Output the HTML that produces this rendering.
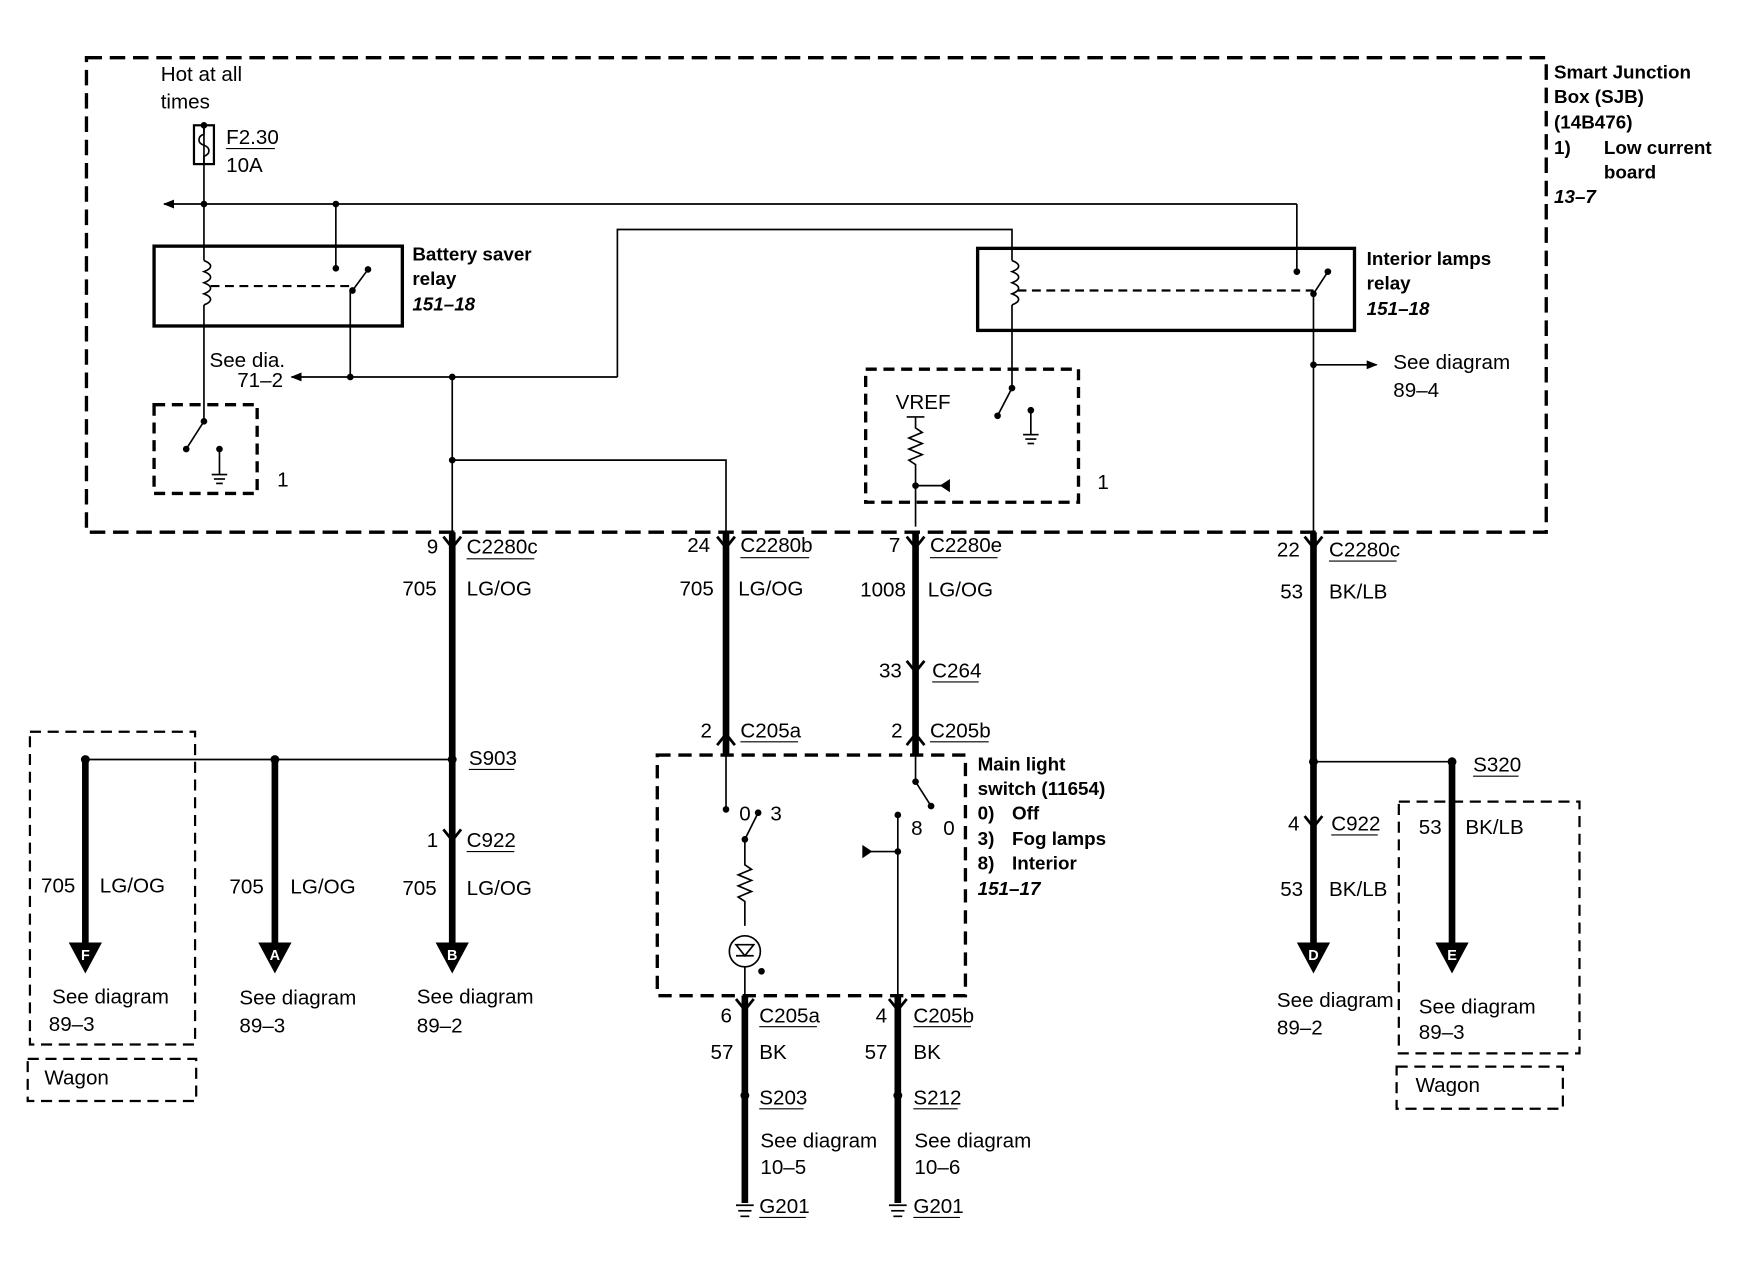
<!DOCTYPE html>
<html><head><meta charset="utf-8"><style>
html,body{margin:0;padding:0;background:#fff;}
svg{display:block;}
text{font-family:"Liberation Sans",sans-serif;font-size:18.6px;fill:#000;}
.b{font-weight:bold;font-size:17px;}
.i{font-weight:bold;font-style:italic;font-size:17px;}
</style></head><body>
<svg width="1738" height="1264" viewBox="0 0 1568 1140" preserveAspectRatio="none" xmlns="http://www.w3.org/2000/svg">
<defs>
<marker id="ar" markerWidth="10" markerHeight="10" refX="9" refY="5" orient="auto" markerUnits="userSpaceOnUse"><path d="M0,1 L10,5 L0,9 Z" fill="#000"/></marker>
</defs>
<g fill="none" stroke="#000">
<rect x="78" y="52" width="1317" height="428" stroke-width="3" stroke-dasharray="14,7"/>
<rect x="139" y="365" width="93" height="80" stroke-width="3" stroke-dasharray="10,6"/>
<rect x="781" y="333" width="192" height="120" stroke-width="3" stroke-dasharray="10,6"/>
<rect x="593" y="681" width="278" height="217" stroke-width="3" stroke-dasharray="12,7"/>
<rect x="27" y="660" width="149" height="282" stroke-width="2" stroke-dasharray="10,6"/>
<rect x="25" y="955" width="152" height="38" stroke-width="2" stroke-dasharray="10,6"/>
<rect x="1262" y="723" width="163" height="227" stroke-width="2" stroke-dasharray="10,6"/>
<rect x="1260" y="962" width="150" height="38" stroke-width="2" stroke-dasharray="10,6"/>
<rect x="139" y="222" width="224" height="72" stroke-width="3"/>
<rect x="882" y="224" width="340" height="74" stroke-width="3"/>
<line x1="190" y1="258" x2="318" y2="258" stroke-width="2" stroke-dasharray="8,5"/>
<line x1="918" y1="262" x2="1185" y2="262" stroke-width="2" stroke-dasharray="8,5"/>
<rect x="175" y="113" width="18" height="35" stroke-width="2"/>
<path d="M184,113 v8 c-6,2 -6,8 0,10 c6,2 6,8 0,10 v7" stroke-width="1.5"/>
<g stroke-width="1.5">
<line x1="184" y1="113" x2="184" y2="235"/>
<path d="M184,235 c8,3 8,7 0,10 c8,3 8,7 0,10 c8,3 8,7 0,10 c8,3 8,7 0,10"/>
<line x1="184" y1="275" x2="184" y2="380"/>
<line x1="184" y1="380" x2="168" y2="405"/>
<line x1="198" y1="405" x2="198" y2="428"/><line x1="191" y1="428" x2="205" y2="428"/><line x1="193" y1="432" x2="203" y2="432"/><line x1="195" y1="436" x2="201" y2="436"/>
<line x1="1170" y1="184" x2="148" y2="184" marker-end="url(#ar)"/>
<line x1="1170" y1="184" x2="1170" y2="245"/>
<line x1="303" y1="184" x2="303" y2="242"/>
<line x1="318" y1="262" x2="332" y2="243"/>
<line x1="316" y1="262" x2="316" y2="340"/>
<line x1="557" y1="340" x2="263" y2="340" marker-end="url(#ar)"/>
<polyline points="557,340 557,207 913,207 913,235"/>
<path d="M913,235 c8,3 8,7 0,10 c8,3 8,7 0,10 c8,3 8,7 0,10 c8,3 8,7 0,10"/>
<line x1="913" y1="275" x2="913" y2="350"/>
<line x1="913" y1="350" x2="900" y2="375"/>
<line x1="930" y1="370" x2="930" y2="392"/><line x1="923" y1="392" x2="937" y2="392"/><line x1="925" y1="396" x2="935" y2="396"/><line x1="927" y1="400" x2="933" y2="400"/>
<line x1="1185" y1="265" x2="1198" y2="245"/>
<line x1="1185" y1="265" x2="1185" y2="480"/>
<line x1="1185" y1="329" x2="1242" y2="329" marker-end="url(#ar)"/>
<line x1="408" y1="340" x2="408" y2="480"/>
<polyline points="408,415 655,415 655,480"/>
<line x1="818" y1="376" x2="834" y2="376"/>
<path d="M826,376 v10 l6,4 l-12,5 l12,5 l-12,5 l12,5 l-12,5 l6,4 v5 v51"/>
<line x1="826" y1="438" x2="857" y2="438"/>
<line x1="77" y1="685" x2="408" y2="685"/>
<line x1="1185" y1="687" x2="1310" y2="687"/>
<line x1="655" y1="681" x2="655" y2="730"/>
<line x1="672" y1="757" x2="684" y2="733"/>
<path d="M672,757 v23 l6,4 l-12,5 l12,5 l-12,5 l12,5 l-12,5 l6,4 v22"/>
<circle cx="672" cy="858" r="14"/>
<path d="M664,852 h16 l-8,10 z M664,862 h16" />
<line x1="672" y1="872" x2="672" y2="898"/>
<line x1="826" y1="681" x2="826" y2="705"/>
<line x1="826" y1="705" x2="840" y2="727"/>
<line x1="810" y1="735" x2="810" y2="898"/>
<line x1="778" y1="768" x2="810" y2="768"/>
</g>
<g stroke-width="6">
<line x1="408" y1="480" x2="408" y2="852"/>
<line x1="655" y1="480" x2="655" y2="680"/>
<line x1="826" y1="480" x2="826" y2="680"/>
<line x1="1185" y1="480" x2="1185" y2="852"/>
<line x1="77" y1="685" x2="77" y2="852"/>
<line x1="248" y1="685" x2="248" y2="852"/>
<line x1="1310" y1="687" x2="1310" y2="852"/>
<line x1="672" y1="898" x2="672" y2="1085"/>
<line x1="810" y1="898" x2="810" y2="1085"/>
</g>
<g stroke-width="2.5">
<path d="M400,484 l8,10 l8,-10"/><path d="M647,484 l8,10 l8,-10"/><path d="M818,484 l8,10 l8,-10"/><path d="M1177,484 l8,10 l8,-10"/>
<path d="M818,596 l8,10 l8,-10"/>
<path d="M647,672 l8,-10 l8,10"/><path d="M818,672 l8,-10 l8,10"/>
<path d="M400,748 l8,10 l8,-10"/><path d="M1177,736 l8,10 l8,-10"/>
<path d="M664,901 l8,10 l8,-10"/><path d="M802,901 l8,10 l8,-10"/>
</g>
<g stroke-width="1.5">
<line x1="664" y1="1087" x2="680" y2="1087"/><line x1="666" y1="1092" x2="678" y2="1092"/><line x1="668" y1="1097" x2="676" y2="1097"/>
<line x1="802" y1="1087" x2="818" y2="1087"/><line x1="804" y1="1092" x2="816" y2="1092"/><line x1="806" y1="1097" x2="814" y2="1097"/>
</g>
</g>
<g fill="#000">
<circle cx="184" cy="113" r="3"/><circle cx="184" cy="184" r="3"/><circle cx="303" cy="184" r="3"/><circle cx="303" cy="242" r="3"/>
<circle cx="318" cy="262" r="3"/><circle cx="332" cy="243" r="3"/><circle cx="316" cy="340" r="3"/><circle cx="408" cy="340" r="3"/>
<circle cx="408" cy="415" r="3"/><circle cx="1170" cy="245" r="3"/><circle cx="1185" cy="265" r="3"/><circle cx="1198" cy="245" r="3"/>
<circle cx="1185" cy="329" r="3"/><circle cx="184" cy="380" r="3"/><circle cx="168" cy="405" r="3"/><circle cx="198" cy="405" r="3"/>
<circle cx="913" cy="350" r="3"/><circle cx="900" cy="375" r="3"/><circle cx="930" cy="370" r="3"/><circle cx="826" cy="438" r="3"/>
<path d="M857,432 v12 l-9,-6 z"/>
<circle cx="77" cy="685" r="4"/><circle cx="248" cy="685" r="4"/><circle cx="408" cy="685" r="4"/>
<circle cx="1185" cy="687" r="4"/><circle cx="1310" cy="687" r="4"/>
<circle cx="655" cy="730" r="3"/><circle cx="684" cy="733" r="3"/><circle cx="672" cy="757" r="3"/>
<circle cx="826" cy="705" r="3"/><circle cx="840" cy="727" r="3"/><circle cx="810" cy="735" r="3"/><circle cx="810" cy="768" r="3"/>
<path d="M778,762 v12 l9,-6 z"/><circle cx="687" cy="876" r="3"/>
<circle cx="672" cy="988" r="4"/><circle cx="810" cy="988" r="4"/>
<path d="M62,850 h30 l-15,28 z"/><path d="M233,850 h30 l-15,28 z"/><path d="M393,850 h30 l-15,28 z"/>
<path d="M1170,850 h30 l-15,28 z"/><path d="M1295,850 h30 l-15,28 z"/>
</g>
<g text-anchor="middle">
<text x="77" y="866" style="fill:#fff;font-size:13px;font-weight:bold">F</text>
<text x="248" y="866" style="fill:#fff;font-size:13px;font-weight:bold">A</text>
<text x="408" y="866" style="fill:#fff;font-size:13px;font-weight:bold">B</text>
<text x="1185" y="866" style="fill:#fff;font-size:13px;font-weight:bold">D</text>
<text x="1310" y="866" style="fill:#fff;font-size:13px;font-weight:bold">E</text>
</g>
<g stroke="#000" stroke-width="1">
<line x1="204" y1="134" x2="248" y2="134"/>
<line x1="421" y1="504" x2="482" y2="504"/><line x1="668" y1="503" x2="730" y2="503"/><line x1="839" y1="503" x2="900" y2="503"/><line x1="1199" y1="506" x2="1260" y2="506"/>
<line x1="841" y1="615" x2="883" y2="615"/><line x1="668" y1="669" x2="720" y2="669"/><line x1="839" y1="669" x2="892" y2="669"/>
<line x1="423" y1="694" x2="464" y2="694"/><line x1="421" y1="768" x2="464" y2="768"/><line x1="1329" y1="700" x2="1370" y2="700"/><line x1="1201" y1="753" x2="1243" y2="753"/>
<line x1="685" y1="926" x2="737" y2="926"/><line x1="824" y1="926" x2="876" y2="926"/>
<line x1="685" y1="1000" x2="725" y2="1000"/><line x1="824" y1="1000" x2="864" y2="1000"/>
<line x1="685" y1="1098" x2="727" y2="1098"/><line x1="824" y1="1098" x2="866" y2="1098"/>
</g>
<text x="145" y="73">Hot at all</text><text x="145" y="98">times</text>
<text x="204" y="130">F2.30</text><text x="204" y="155">10A</text>
<text x="372" y="235" class="b">Battery saver</text><text x="372" y="257" class="b">relay</text><text x="372" y="280" class="i">151–18</text>
<text x="1233" y="239" class="b">Interior lamps</text><text x="1233" y="261" class="b">relay</text><text x="1233" y="284" class="i">151–18</text>
<text x="1402" y="71" class="b">Smart Junction</text><text x="1402" y="93" class="b">Box (SJB)</text><text x="1402" y="116" class="b">(14B476)</text>
<text x="1402" y="139" class="b">1)</text><text x="1447" y="139" class="b">Low current</text><text x="1447" y="161" class="b">board</text><text x="1402" y="183" class="i">13–7</text>
<text x="189" y="331">See dia.</text><text x="214" y="349">71–2</text>
<text x="808" y="369">VREF</text>
<text x="250" y="439">1</text><text x="990" y="441">1</text>
<text x="1257" y="333">See diagram</text><text x="1257" y="358">89–4</text>
<text x="385" y="499">9</text><text x="421" y="499">C2280c</text><text x="363" y="537">705</text><text x="421" y="537">LG/OG</text>
<text x="620" y="498">24</text><text x="668" y="498">C2280b</text><text x="613" y="537">705</text><text x="666" y="537">LG/OG</text>
<text x="802" y="498">7</text><text x="839" y="498">C2280e</text><text x="776" y="538">1008</text><text x="837" y="538">LG/OG</text>
<text x="793" y="611">33</text><text x="841" y="611">C264</text>
<text x="632" y="665">2</text><text x="668" y="665">C205a</text><text x="804" y="665">2</text><text x="839" y="665">C205b</text>
<text x="1152" y="502">22</text><text x="1199" y="502">C2280c</text><text x="1155" y="540">53</text><text x="1199" y="540">BK/LB</text>
<text x="423" y="690">S903</text><text x="1329" y="696">S320</text>
<text x="385" y="764">1</text><text x="421" y="764">C922</text><text x="1162" y="749">4</text><text x="1201" y="749">C922</text>
<text x="1280" y="752">53</text><text x="1322" y="752">BK/LB</text>
<text x="37" y="805">705</text><text x="90" y="805">LG/OG</text>
<text x="207" y="806">705</text><text x="262" y="806">LG/OG</text>
<text x="363" y="807">705</text><text x="421" y="807">LG/OG</text>
<text x="1155" y="808">53</text><text x="1199" y="808">BK/LB</text>
<text x="882" y="695" class="b">Main light</text><text x="882" y="717" class="b">switch (11654)</text>
<text x="882" y="739" class="b">0)</text><text x="913" y="739" class="b">Off</text>
<text x="882" y="762" class="b">3)</text><text x="913" y="762" class="b">Fog lamps</text>
<text x="882" y="784" class="b">8)</text><text x="913" y="784" class="b">Interior</text>
<text x="882" y="807" class="i">151–17</text>
<text x="667" y="740">0</text><text x="695" y="740">3</text><text x="822" y="753">8</text><text x="851" y="753">0</text>
<text x="47" y="905">See diagram</text><text x="44" y="930">89–3</text>
<text x="216" y="906">See diagram</text><text x="216" y="931">89–3</text>
<text x="376" y="905">See diagram</text><text x="376" y="931">89–2</text>
<text x="1152" y="908">See diagram</text><text x="1152" y="933">89–2</text>
<text x="1280" y="914">See diagram</text><text x="1280" y="937">89–3</text>
<text x="40" y="978">Wagon</text><text x="1277" y="985">Wagon</text>
<text x="650" y="922">6</text><text x="685" y="922">C205a</text><text x="641" y="955">57</text><text x="685" y="955">BK</text>
<text x="790" y="922">4</text><text x="824" y="922">C205b</text><text x="780" y="955">57</text><text x="824" y="955">BK</text>
<text x="685" y="996">S203</text><text x="824" y="996">S212</text>
<text x="686" y="1035">See diagram</text><text x="686" y="1059">10–5</text>
<text x="825" y="1035">See diagram</text><text x="825" y="1059">10–6</text>
<text x="685" y="1094">G201</text><text x="824" y="1094">G201</text>
</svg>
</body></html>
